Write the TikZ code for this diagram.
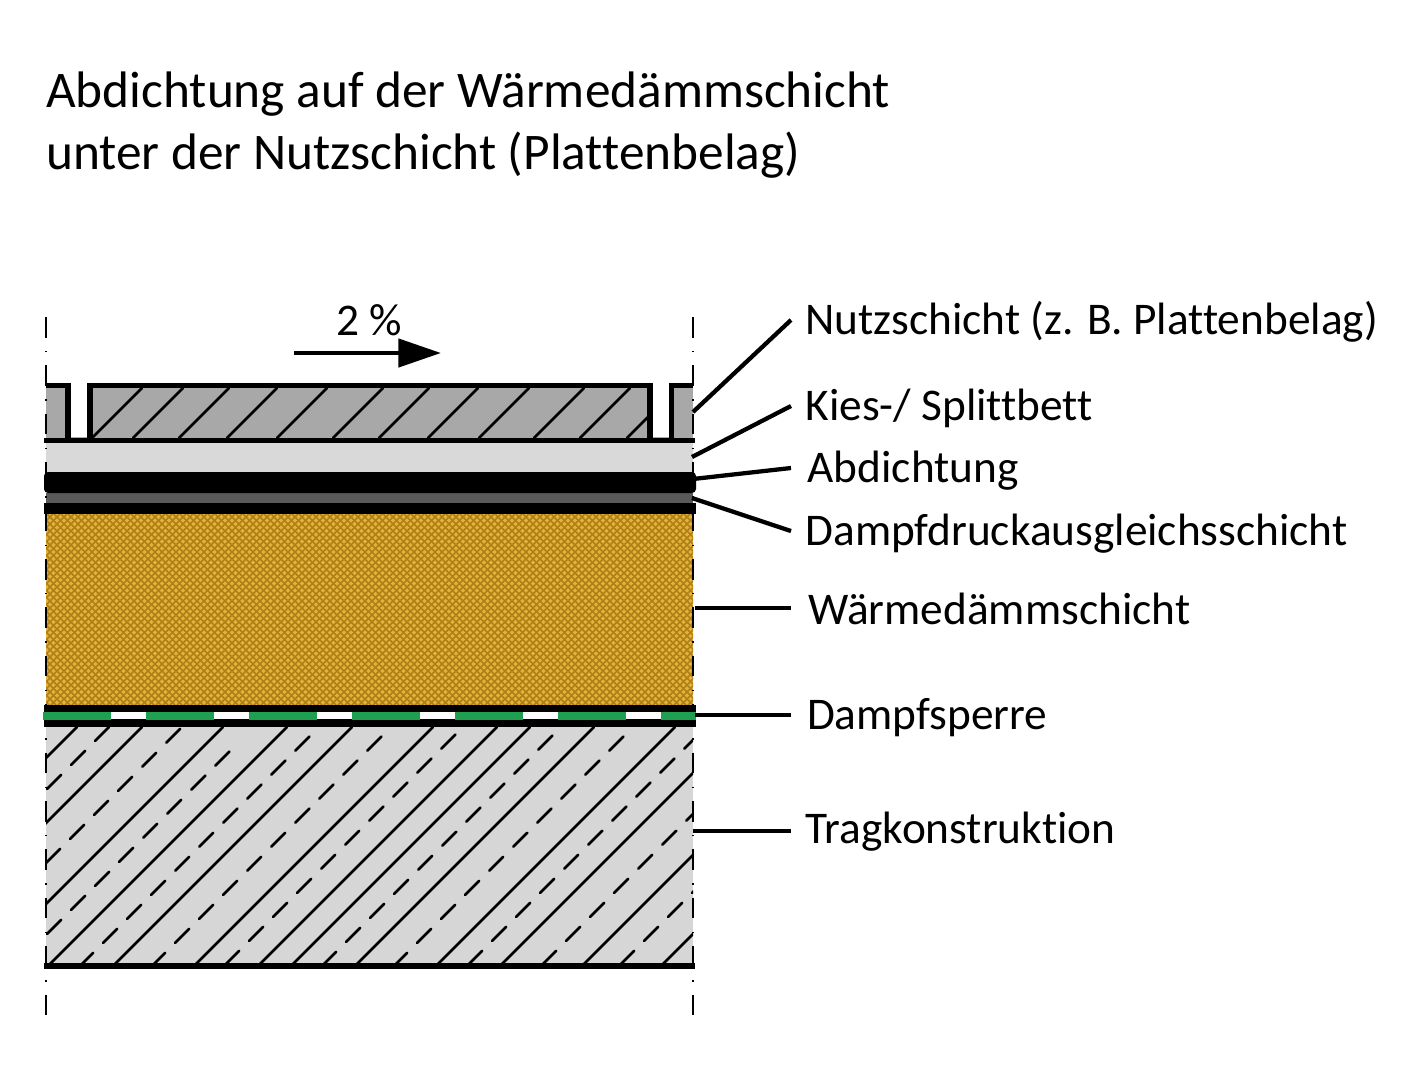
\documentclass[tikz,border=0pt]{standalone}
\usepackage{fontspec}
\usepackage{tikz}
\setmainfont[Ligatures=NoCommon]{Carlito}
\usetikzlibrary{arrows.meta}
\usetikzlibrary{positioning}
\definecolor{slabgrey}{HTML}{A8A8A8}
\definecolor{gravelgrey}{HTML}{D9D9D9}
\definecolor{fleecegrey}{HTML}{5A5A5A}
\definecolor{concretegrey}{HTML}{D6D6D6}
\definecolor{insulbase}{HTML}{E6B23A}
\definecolor{insulline}{HTML}{AD8018}
\definecolor{barrier}{HTML}{1FA050}
\tikzset{
  leader/.style={line width=3.2pt},
  outline/.style={line width=3.8pt},
  band/.style={line width=6pt},
  hatchline/.style={line width=1.9pt, line cap=round},
  axisline/.style={line width=2.1pt, dash pattern=on 15.5pt off 10pt on 1pt off 9.8pt},
  lab/.style={font=\fontsize{34}{34}\selectfont, anchor=west, inner xsep=11pt, inner ysep=0pt, outer sep=0pt, text height=24pt, text depth=2.5pt}
}
\begin{document}
\begin{tikzpicture}[x=0.75pt, y=-0.75pt]
    \useasboundingbox (0,0) rectangle (1414,1086);

    \node [font=\fontsize{38.5}{46.5}\selectfont, align=left, anchor=north west, inner sep=0pt] (title) at (46,72)
      {Abdichtung auf der Wärmedämmschicht\\unter der Nutzschicht (Plattenbelag)};

    \fill [slabgrey] (46,385) rectangle (693,440);
    \fill [white] (70,380) rectangle (87,437);
    \fill [white] (652,380) rectangle (669,437);
    \begin{scope}
      \clip (90,388) rectangle (650,438);
      \foreach \c in {530,571,617,665,715,771,817,866,917,972,1018,1065}
        \draw [hatchline] (\c-438,438) -- (\c-388,388);
    \end{scope}

    \fill [gravelgrey] (46,443) rectangle (693,472);
    \fill [fleecegrey] (46,493) rectangle (693,503);

    \fill [insulbase] (46,514) rectangle (693,705);
    \begin{scope}
      \clip (46,514) rectangle (693,705);
      \foreach \c in {560,567,...,1400} {
        \draw [insulline, line width=1.1pt] (\c-705,705) -- (\c-514,514);
      }
      \foreach \c in {-670,-663,...,190} {
        \draw [insulline, line width=1.1pt] (\c+514,514) -- (\c+705,705);
      }
    \end{scope}

    \fill [concretegrey] (46,727) rectangle (693,966);
    \begin{scope}
      \clip (46,727) rectangle (693,966);
      \foreach \c in {804,869,950,1014,1079,1160,1224,1257,1321,1402,1466,1548,1627}
        \draw [hatchline] (\c-966,966) -- (\c-727,727);
      \foreach \c/\b/\t in {836/789/727,909/863/727,981/934/750,1046/967/727,1118/967/727,1190/965/727,
                            1288/966/727,1360/967/727,1433/965/727,1507/965/727,1585/965/727}
        \draw [hatchline, dash pattern=on 15pt off 10.5pt] (\c-\b,\b) -- (\c-\t,\t);
    \end{scope}

    \coordinate (axistop1) at (46,317);
    \coordinate (axisend1) at (46,1016);
    \coordinate (axistop2) at (693,317);
    \coordinate (axisend2) at (693,1016);
    \draw [axisline] (axistop1) -- (axisend1);
    \draw [axisline] (axistop2) -- (axisend2);

    \draw [outline, line join=miter] (46,385.5) -- (68,385.5) -- (68,440);
    \draw [outline, line join=miter] (90,440) -- (90,385.5) -- (650,385.5) -- (650,440);
    \draw [outline, line join=miter] (671.5,440) -- (671.5,385.5) -- (693,385.5);
    \draw [outline] (44,440.5) -- (695,440.5);

    \fill [black, rounded corners=3pt] (44,472) rectangle (696,493);
    \fill [black] (44,503) rectangle (696,514);
    \fill [black] (44,705) rectangle (696,712);
    \fill [black] (44,719) rectangle (696,727);
    \fill [white] (46,712) rectangle (693,719);
    \draw [band, barrier, dash pattern=on 51pt off 26.25pt] (43,715.5) -- (696,715.5);
    \draw [line width=4.5pt] (44,966) -- (695,966);

    \coordinate (slopefrom) at (294,353);
    \coordinate (slopeto) at (441,353);
    \draw [line width=3.4pt, -{Triangle[length=32pt, width=21pt]}] (slopefrom) -- (slopeto);
    \node [font=\fontsize{34}{34}\selectfont, inner sep=0pt] (slope) at (369,320) {2 \%};

    \node [lab] (nutz) at (791,320) {Nutzschicht (z. B. Plattenbelag)};
    \node [lab, below=64.5pt of nutz.west, anchor=west] (kies) {Kies-/ Splittbett};
    \node [lab, below=46.5pt of kies.west, anchor=west, inner xsep=12.5pt] (abd) {Abdichtung};
    \node [lab, below=47.25pt of abd.west, anchor=west] (druck) {Dampfdruckausgleichsschicht};
    \node [lab, below=59.25pt of druck.west, anchor=west, inner xsep=13pt] (daemm) {Wärmedämmschicht};
    \node [lab, below=78.75pt of daemm.west, anchor=west, inner xsep=12pt] (sperre) {Dampfsperre};
    \node [lab, below=85.5pt of sperre.west, anchor=west] (trag) {Tragkonstruktion};

    \coordinate (nutzend) at (693,412);
    \coordinate (kiesend) at (692,457);
    \coordinate (abdend) at (693,479);
    \coordinate (druckend) at (692,498);
    \coordinate (daemmend) at (695,608);
    \coordinate (sperreend) at (695,715);
    \coordinate (tragend) at (693,831);

    \draw [leader] (nutzend) -- (nutz.west);
    \draw [leader] (kiesend) -- (kies.west);
    \draw [leader] (abdend) -- (abd.west);
    \draw [leader] (druckend) -- (druck.west);
    \draw [leader] (daemmend) -- (daemm.west |- daemmend);
    \draw [leader] (sperreend) -- (sperre.west);
    \draw [leader] (tragend) -- (trag.west |- tragend);
\end{tikzpicture}
\end{document}
